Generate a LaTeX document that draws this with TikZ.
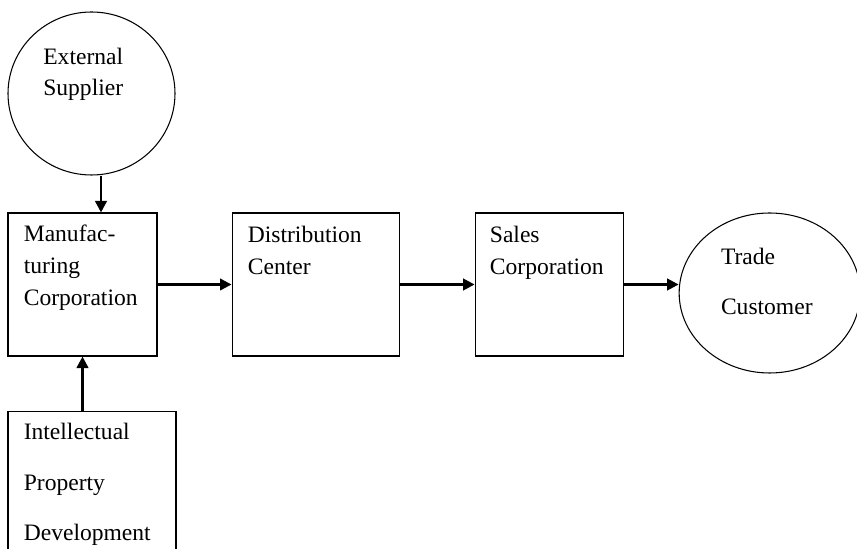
\documentclass[tikz,border=0pt]{standalone}
\usepackage{fontspec}
\setmainfont{Liberation Serif}
\usetikzlibrary{positioning,shapes.geometric,arrows.meta}

\begin{document}
\begin{tikzpicture}[
  box/.style={draw,line width=0.6pt,minimum height=2.86cm},
  oval/.style={draw,ellipse,line width=0.6pt},
  lbl/.style={inner sep=0pt,align=left,anchor=base west,font={\fontsize{13.4}{18.2}\selectfont}},
  widelbl/.style={lbl,font={\fontsize{13.4}{28.7}\selectfont}},
  flow/.style={line width=1.4pt,-{Triangle[length=0.23cm,width=0.23cm]}}
]
\useasboundingbox (0,0) rectangle (17.14,-10.98);
\node[oval,minimum width=3.34cm,minimum height=3.26cm] (supplier) at (1.83,-1.87) {};
\node[box,minimum width=2.98cm] (manuf) at (1.65,-5.69) {};
\node[box,minimum width=3.34cm,right = 1.48cm of manuf] (dist) {};
\node[box,minimum width=2.96cm,right = 1.5cm of dist] (sales) {};
\node[oval,minimum width=3.62cm,minimum height=3.2cm,right = 1.1cm of sales,yshift=-0.17cm] (trade) {};
\node[draw,line width=0.6pt,minimum width=3.36cm,minimum height=3.2cm,below = 1.08cm of manuf.south west,anchor=north west] (ip) {};
% labels sit on the baseline of their last line
\node[lbl,below left = 0.05cm and 0.97cm of supplier.center,anchor=base west] (supplierText) {External\\Supplier};
\node[lbl,below right = 1.86cm and 0.32cm of manuf.north west,anchor=base west] (manufText) {Manufac-\\turing\\Corporation};
\node[lbl,below right = 1.24cm and 0.32cm of dist.north west,anchor=base west] (distText) {Distribution\\Center};
\node[lbl,below right = 1.24cm and 0.3cm of sales.north west,anchor=base west] (salesText) {Sales\\Corporation};
\node[widelbl,below left = 0.43cm and 0.98cm of trade.center,anchor=base west] (tradeText) {Trade\\Customer};
\node[widelbl,below right = 2.6cm and 0.32cm of ip.north west,anchor=base west] (ipText) {Intellectual\\Property\\Development};
\coordinate[right = 0.37cm of manuf.north] (inA);
\draw[flow] (inA |- supplier.south) -- (inA);
\draw[flow] (ip.north -| manuf.south) -- (manuf.south);
\draw[flow] (manuf) -- (dist);
\draw[flow] (dist) -- (sales);
\draw[flow] (sales.east) -- (trade.west |- sales.east);
\end{tikzpicture}
\end{document}
